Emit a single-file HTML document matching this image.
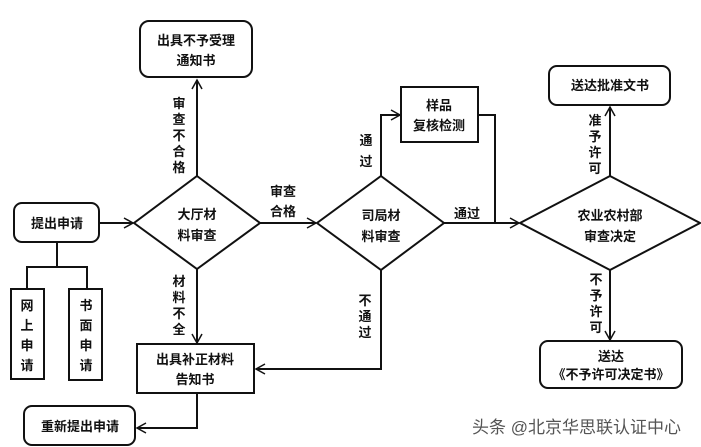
<!DOCTYPE html>
<html><head><meta charset="utf-8"><style>
html,body{margin:0;padding:0;background:#fff;}
svg{display:block;}
text{font-family:"Liberation Sans","Noto Sans CJK SC",sans-serif;font-size:13px;font-weight:bold;fill:#111;}
</style></head><body>
<svg width="701" height="447" viewBox="0 0 701 447" xmlns="http://www.w3.org/2000/svg">
<defs>
<marker id="a" markerWidth="12" markerHeight="12" refX="10" refY="6" orient="auto" markerUnits="userSpaceOnUse">
<path d="M1,1 L10,6 L1,11" fill="none" stroke="#111" stroke-width="1.5"/>
</marker>
</defs>
<g fill="none" stroke="#111" stroke-width="2">
<rect x="140" y="21" width="112" height="56" rx="9"/>
<rect x="14" y="203" width="85" height="39" rx="8"/>
<rect x="11" y="289" width="33" height="90"/>
<rect x="69" y="289" width="33" height="91"/>
<rect x="137" y="344" width="117" height="49"/>
<rect x="24" y="406" width="111" height="39" rx="8"/>
<rect x="401" y="87" width="77" height="55"/>
<rect x="549" y="66" width="121" height="39" rx="8"/>
<rect x="540" y="341" width="142" height="47" rx="8"/>
<polygon points="197,176 260,223 197,269 134,223"/>
<polygon points="381,176 444,223 381,270 317,223"/>
<polygon points="610,176 700,223 610,270 520,223"/>
<line x1="197" y1="176" x2="197" y2="80" marker-end="url(#a)"/>
<line x1="99" y1="223" x2="133" y2="223" marker-end="url(#a)"/>
<polyline points="57,242 57,267"/>
<polyline points="27,289 27,267 87,267 87,289"/>
<line x1="260" y1="223" x2="316" y2="223" marker-end="url(#a)"/>
<line x1="197" y1="269" x2="197" y2="343" marker-end="url(#a)"/>
<polyline points="381,270 381,369 256,369" marker-end="url(#a)"/>
<polyline points="197,393 197,428 137,428" marker-end="url(#a)"/>
<polyline points="381,176 381,115 400,115" marker-end="url(#a)"/>
<polyline points="478,115 495,115 495,223"/>
<line x1="444" y1="223" x2="519" y2="223" marker-end="url(#a)"/>
<line x1="610" y1="176" x2="610" y2="107" marker-end="url(#a)"/>
<line x1="610" y1="270" x2="610" y2="340" marker-end="url(#a)"/>
</g>
<g text-anchor="middle">
<text x="196" y="45">出具不予受理</text>
<text x="196" y="65">通知书</text>
<text x="57" y="228">提出申请</text>
<text x="197" y="219">大厅材</text>
<text x="197" y="240">料审查</text>
<text x="381" y="220">司局材</text>
<text x="381" y="241">料审查</text>
<text x="610" y="220">农业农村部</text>
<text x="610" y="241">审查决定</text>
<text x="195" y="364">出具补正材料</text>
<text x="195" y="384">告知书</text>
<text x="80" y="431">重新提出申请</text>
<text x="439" y="110">样品</text>
<text x="439" y="130">复核检测</text>
<text x="610" y="90">送达批准文书</text>
<text x="611" y="361">送达</text>
<text x="611" y="379">《不予许可决定书》</text>
<text x="283" y="196">审查</text>
<text x="283" y="216">合格</text>
<text x="467" y="218">通过</text>
<g>
<text x="179" y="108">审</text><text x="179" y="124">查</text><text x="179" y="140">不</text><text x="179" y="156">合</text><text x="179" y="172">格</text>
<text x="179" y="286">材</text><text x="179" y="302">料</text><text x="179" y="318">不</text><text x="179" y="334">全</text>
<text x="27" y="310">网</text><text x="27" y="330">上</text><text x="27" y="350">申</text><text x="27" y="370">请</text>
<text x="86" y="310">书</text><text x="86" y="330">面</text><text x="86" y="350">申</text><text x="86" y="370">请</text>
<text x="366" y="145">通</text><text x="366" y="166">过</text>
<text x="365" y="305">不</text><text x="365" y="321">通</text><text x="365" y="337">过</text>
<text x="595" y="125">准</text><text x="595" y="141">予</text><text x="595" y="157">许</text><text x="595" y="173">可</text>
<text x="596" y="284">不</text><text x="596" y="300">予</text><text x="596" y="316">许</text><text x="596" y="332">可</text>
</g>
</g>
<text x="472" y="433" style="font-size:17px;font-weight:normal;fill:#555;">头条 @北京华思联认证中心</text>
</svg>
</body></html>
